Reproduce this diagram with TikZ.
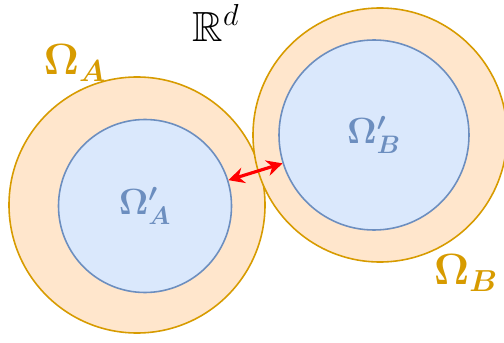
\documentclass[tikz,border=0pt]{standalone}
\definecolor{domorange}{RGB}{215, 155, 0}
\definecolor{domfill}{RGB}{255, 230, 204}
\definecolor{subblue}{RGB}{108, 142, 191}
\definecolor{subfill}{RGB}{218, 232, 252}
\usepackage{tikz}
\usetikzlibrary{arrows.meta, positioning}
\usepackage{amsmath, amssymb, bm}

\begin{document}
\begin{tikzpicture}[
  outer/.style={circle, draw=domorange, fill=domfill, line width=0.9pt, inner sep=0pt},
  inner/.style={circle, draw=subblue, fill=subfill, line width=0.9pt, inner sep=0pt, text=subblue, font=\fontsize{22}{26}\selectfont},
  dlabel/.style={text=domorange, font=\fontsize{24}{28}\selectfont}
]
  \useasboundingbox (0,0) rectangle (10.08,6.84);
  % left domain
  \node[outer, minimum size=5.12cm] (oA) at (2.74, 2.74) {};
  \node[inner, minimum size=3.46cm] (iA) at (2.90, 2.72) {$\bm{\Omega'_A}$};
  % right domain
  \node[outer, minimum size=5.08cm] (oB) at (7.60, 4.14) {};
  \node[inner, minimum size=3.80cm] (iB) at (7.48, 4.14) {$\bm{\Omega'_B}$};
  % labels
  \node[font=\fontsize{24}{28}\selectfont] (space) at (4.32, 6.38) {$\mathbb{R}^d$};
  \node[dlabel] (lA) at (1.50, 5.58) {$\bm{\Omega_A}$};
  \node[dlabel] (lB) at (9.32, 1.38) {$\bm{\Omega_B}$};
  % distance
  \draw[{Stealth[length=9pt,width=9pt]}-{Stealth[length=9pt,width=9pt]}, red, line width=1.8pt] (iA) -- (iB);
\end{tikzpicture}
\end{document}
